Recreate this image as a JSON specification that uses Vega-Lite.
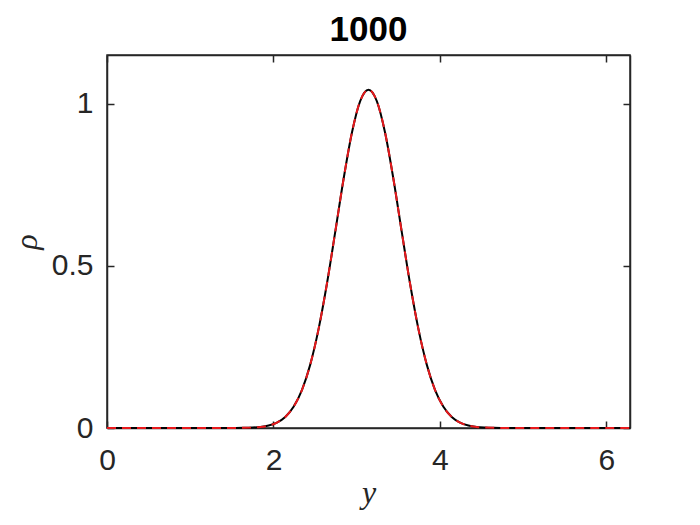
{
  "$schema": "https://vega.github.io/schema/vega-lite/v6.json",
  "autosize": {"type": "none"},
  "padding": {"left": 107, "top": 55, "right": 70, "bottom": 97},
  "width": 523,
  "height": 373,
  "background": "white",
  "title": {"text": "1000", "font": "Liberation Sans", "fontSize": 35, "fontWeight": "bold", "color": "#000000", "offset": 6, "anchor": "middle"},
  "config": {
    "view": {"stroke": "#262626", "strokeWidth": 1.5},
    "axis": {"labelFont": "Liberation Sans", "labelFontSize": 30, "labelColor": "#262626", "tickColor": "#262626", "domainColor": "#262626", "domainWidth": 1.5, "tickWidth": 1.5, "tickSize": -7, "grid": false, "titleColor": "#262626", "labelFlush": false}
  },
  "data": {"values": [
    {"y": 0.0, "rho": 0},
    {"y": 0.4, "rho": 0},
    {"y": 0.8, "rho": 0},
    {"y": 1.2, "rho": 0},
    {"y": 1.4416, "rho": 0.0001},
    {"y": 1.5416, "rho": 0.0002},
    {"y": 1.6416, "rho": 0.0005},
    {"y": 1.7416, "rho": 0.0013},
    {"y": 1.8416, "rho": 0.0032},
    {"y": 1.9416, "rho": 0.0076},
    {"y": 2.0416, "rho": 0.0167},
    {"y": 2.1416, "rho": 0.0342},
    {"y": 2.2416, "rho": 0.0654},
    {"y": 2.3416, "rho": 0.1170},
    {"y": 2.4416, "rho": 0.1954},
    {"y": 2.5416, "rho": 0.3048},
    {"y": 2.6416, "rho": 0.4439},
    {"y": 2.7416, "rho": 0.6037},
    {"y": 2.8416, "rho": 0.7668},
    {"y": 2.9416, "rho": 0.9097},
    {"y": 3.0416, "rho": 1.0080},
    {"y": 3.1416, "rho": 1.0430},
    {"y": 3.2416, "rho": 1.0080},
    {"y": 3.3416, "rho": 0.9097},
    {"y": 3.4416, "rho": 0.7668},
    {"y": 3.5416, "rho": 0.6037},
    {"y": 3.6416, "rho": 0.4439},
    {"y": 3.7416, "rho": 0.3048},
    {"y": 3.8416, "rho": 0.1954},
    {"y": 3.9416, "rho": 0.1170},
    {"y": 4.0416, "rho": 0.0654},
    {"y": 4.1416, "rho": 0.0342},
    {"y": 4.2416, "rho": 0.0167},
    {"y": 4.3416, "rho": 0.0076},
    {"y": 4.4416, "rho": 0.0032},
    {"y": 4.5416, "rho": 0.0013},
    {"y": 4.6416, "rho": 0.0005},
    {"y": 4.7416, "rho": 0.0002},
    {"y": 4.8416, "rho": 0.0001},
    {"y": 5.1, "rho": 0},
    {"y": 5.5, "rho": 0},
    {"y": 5.9, "rho": 0},
    {"y": 6.2832, "rho": 0}
  ]},
  "layer": [
    {
      "mark": {"type": "line", "color": "#000000", "strokeWidth": 2, "interpolate": "monotone"},
      "encoding": {
        "x": {"field": "y", "type": "quantitative", "scale": {"domain": [0, 6.2832], "nice": false, "zero": false},
              "axis": {"values": [0, 2, 4, 6], "format": "~g", "title": "y", "titleFont": "Liberation Serif", "titleFontStyle": "italic", "titleFontWeight": "normal", "titleFontSize": 32, "titlePadding": 2, "labelPadding": 24}},
        "y": {"field": "rho", "type": "quantitative", "scale": {"domain": [0, 1.15], "nice": false},
              "axis": {"values": [0, 0.5, 1], "format": ".1~f", "title": "ρ", "titleFont": "Liberation Serif", "titleFontStyle": "italic", "titleFontWeight": "normal", "titleFontSize": 32, "titlePadding": 8, "labelPadding": 21}}
      }
    },
    {
      "mark": {"type": "line", "color": "#e8191c", "strokeWidth": 2, "strokeDash": [9, 6], "interpolate": "monotone"},
      "encoding": {
        "x": {"field": "y", "type": "quantitative", "axis": {"orient": "top", "values": [0, 2, 4, 6], "labels": false, "title": null}},
        "y": {"field": "rho", "type": "quantitative", "axis": {"orient": "right", "values": [0, 0.5, 1], "labels": false, "title": null}}
      }
    }
  ],
  "resolve": {"axis": {"x": "independent", "y": "independent"}}
}
